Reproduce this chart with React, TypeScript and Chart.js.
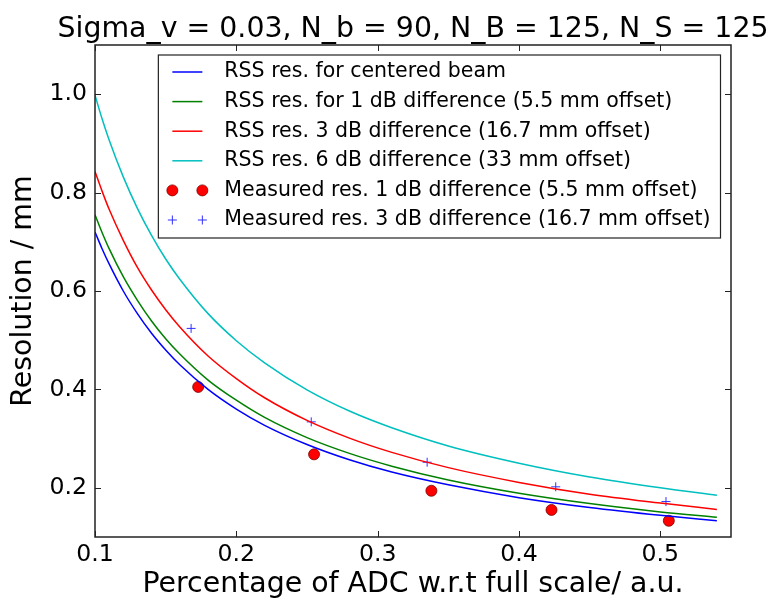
import React, { useEffect, useRef } from 'react';
import { Chart, registerables } from 'chart.js';

Chart.register(...registerables);

const TITLE = 'Sigma_v = 0.03, N_b = 90, N_B = 125, N_S = 125';
const X_LABEL = 'Percentage of ADC w.r.t full scale/ a.u.';
const Y_LABEL = 'Resolution / mm';

const curveX = [0.1, 0.105, 0.11, 0.12, 0.13, 0.14, 0.15, 0.16, 0.18, 0.2, 0.22, 0.25, 0.28, 0.31, 0.35, 0.4, 0.45, 0.5, 0.54];
const centeredBeam = [0.72, 0.686, 0.655, 0.6, 0.554, 0.514, 0.48, 0.45, 0.4, 0.36, 0.327, 0.288, 0.257, 0.232, 0.206, 0.18, 0.16, 0.144, 0.133];
const diff1dB = [0.755, 0.719, 0.686, 0.629, 0.581, 0.539, 0.503, 0.472, 0.419, 0.378, 0.343, 0.302, 0.27, 0.244, 0.216, 0.189, 0.168, 0.151, 0.14];
const diff3dB = [0.843, 0.803, 0.766, 0.703, 0.648, 0.602, 0.562, 0.527, 0.468, 0.422, 0.383, 0.337, 0.301, 0.272, 0.241, 0.211, 0.187, 0.169, 0.156];
const diff6dB = [0.998, 0.95, 0.907, 0.832, 0.768, 0.713, 0.665, 0.624, 0.554, 0.499, 0.454, 0.399, 0.356, 0.322, 0.285, 0.25, 0.222, 0.2, 0.185];

const measuredX1dB = [0.173, 0.255, 0.338, 0.423, 0.506];
const measured1dB = [0.405, 0.268, 0.194, 0.155, 0.133];
const measuredX3dB = [0.168, 0.253, 0.335, 0.426, 0.504];
const measured3dB = [0.524, 0.334, 0.252, 0.202, 0.172];

const seriesLabels = [
  'RSS res. for centered beam',
  'RSS res. for 1 dB difference (5.5 mm offset)',
  'RSS res. 3 dB difference (16.7 mm offset)',
  'RSS res. 6 dB difference (33 mm offset)',
  'Measured res. 1 dB difference (5.5 mm offset)',
  'Measured res. 3 dB difference (16.7 mm offset)',
];

const xTicks = [0.1, 0.2, 0.3, 0.4, 0.5];
const yTicks = [0.2, 0.4, 0.6, 0.8, 1.0];
const X_MIN = 0.1;
const X_MAX = 0.55;
const Y_MIN = 0.1;
const Y_MAX = 1.1;

const FONT = '"DejaVu Sans", "Liberation Sans", sans-serif';
const FRAME = '#222';

const pts = (xs: number[], ys: number[]) => xs.map((x, i) => ({ x, y: ys[i] }));

const titlePlugin = {
  id: 'mplTitle',
  afterDraw(chart: any) {
    const { ctx, chartArea: a } = chart;
    ctx.save();
    ctx.font = `28.4px ${FONT}`;
    ctx.fillStyle = '#000';
    ctx.textAlign = 'center';
    ctx.textBaseline = 'alphabetic';
    ctx.fillText(TITLE, (a.left + a.right) / 2, a.top - 8.5);
    ctx.restore();
  },
};

const framePlugin = {
  id: 'mplFrame',
  afterDatasetsDraw(chart: any) {
    const { ctx, chartArea: a, scales } = chart;
    const tl = 6;
    ctx.save();
    ctx.strokeStyle = FRAME;
    ctx.lineWidth = 1.5;
    ctx.strokeRect(a.left, a.top, a.right - a.left, a.bottom - a.top);
    ctx.lineWidth = 1;
    ctx.beginPath();
    for (const v of xTicks) {
      const px = Math.round(scales.x.getPixelForValue(v)) + 0.5;
      ctx.moveTo(px, a.bottom);
      ctx.lineTo(px, a.bottom - tl);
      ctx.moveTo(px, a.top);
      ctx.lineTo(px, a.top + tl);
    }
    for (const v of yTicks) {
      const py = Math.round(scales.y.getPixelForValue(v)) + 0.5;
      ctx.moveTo(a.left, py);
      ctx.lineTo(a.left + tl, py);
      ctx.moveTo(a.right, py);
      ctx.lineTo(a.right - tl, py);
    }
    ctx.stroke();
    ctx.restore();
  },
};

const legendPlugin = {
  id: 'mplLegend',
  afterDraw(chart: any) {
    const { ctx, chartArea: a } = chart;
    const ds = chart.data.datasets;
    ctx.save();
    ctx.font = `20.5px ${FONT}`;
    const maxW = Math.max(...ds.map((d: any) => ctx.measureText(d.label).width));
    const right = a.right - 10.5;
    const top = a.top + 10;
    const left = right - (66 + maxW + 10);
    const rowH = 29.6;
    const bottom = top + 17 + rowH * (ds.length - 1) + 18;
    ctx.fillStyle = '#fff';
    ctx.fillRect(left, top, right - left, bottom - top);
    ctx.strokeStyle = FRAME;
    ctx.lineWidth = 1.2;
    ctx.strokeRect(left, top, right - left, bottom - top);
    ds.forEach((d: any, i: number) => {
      const y = top + 17 + i * rowH;
      const x0 = left + 14;
      const x1 = left + 44;
      if (d.showLine) {
        ctx.strokeStyle = d.borderColor;
        ctx.lineWidth = d.borderWidth;
        ctx.beginPath();
        ctx.moveTo(x0, y);
        ctx.lineTo(x1, y);
        ctx.stroke();
      } else {
        for (const x of [x0, x1]) {
          if (d.pointStyle === 'circle') {
            ctx.beginPath();
            ctx.arc(x, y, d.pointRadius, 0, Math.PI * 2);
            ctx.fillStyle = d.pointBackgroundColor;
            ctx.fill();
            ctx.strokeStyle = d.pointBorderColor;
            ctx.lineWidth = d.pointBorderWidth;
            ctx.stroke();
          } else {
            ctx.beginPath();
            ctx.strokeStyle = d.pointBorderColor;
            ctx.lineWidth = d.pointBorderWidth;
            ctx.moveTo(x - d.pointRadius, y);
            ctx.lineTo(x + d.pointRadius, y);
            ctx.moveTo(x, y - d.pointRadius);
            ctx.lineTo(x, y + d.pointRadius);
            ctx.stroke();
          }
        }
      }
      ctx.fillStyle = '#000';
      ctx.textAlign = 'left';
      ctx.textBaseline = 'middle';
      ctx.fillText(d.label, left + 66, y);
    });
    ctx.restore();
  },
};

function lineSet(label: string, ys: number[], color: string) {
  return {
    label,
    data: pts(curveX, ys),
    showLine: true,
    borderColor: color,
    backgroundColor: color,
    borderWidth: 1.5,
    pointRadius: 0,
    pointHoverRadius: 0,
    cubicInterpolationMode: 'monotone' as const,
    fill: false,
  };
}

export default function App() {
  const ref = useRef<HTMLCanvasElement | null>(null);

  useEffect(() => {
    document.body.style.margin = '0';
    const canvas = ref.current;
    if (!canvas) return;
    const chart = new Chart(canvas, {
      type: 'scatter',
      data: {
        datasets: [
          lineSet(seriesLabels[0], centeredBeam, '#0000ff'),
          lineSet(seriesLabels[1], diff1dB, '#008000'),
          lineSet(seriesLabels[2], diff3dB, '#ff0000'),
          lineSet(seriesLabels[3], diff6dB, '#00bfbf'),
          {
            label: seriesLabels[4],
            data: pts(measuredX1dB, measured1dB),
            showLine: false,
            pointStyle: 'circle',
            pointRadius: 5.5,
            pointBackgroundColor: '#ff0000',
            pointBorderColor: '#7a0000',
            pointBorderWidth: 0.8,
          } as any,
          {
            label: seriesLabels[5],
            data: pts(measuredX3dB, measured3dB),
            showLine: false,
            pointStyle: 'cross',
            pointRadius: 4.5,
            pointBackgroundColor: '#0000ff',
            pointBorderColor: '#3030ff',
            pointBorderWidth: 1,
          } as any,
        ],
      },
      options: {
        animation: false,
        responsive: false,
        events: [],
        layout: { padding: { left: 0, right: 43, top: 45, bottom: 0 } },
        plugins: {
          legend: { display: false },
          tooltip: { enabled: false },
          title: { display: false },
        },
        scales: {
          x: {
            type: 'linear',
            min: X_MIN,
            max: X_MAX,
            grid: { display: false, drawTicks: false },
            border: { display: false },
            afterFit: (s: any) => { s.height = 69; },
            afterBuildTicks: (s: any) => { s.ticks = xTicks.map((v) => ({ value: v })); },
            ticks: {
              autoSkip: false,
              maxRotation: 0,
              padding: 4,
              color: '#000',
              font: { family: FONT, size: 23.6 },
              callback: (v: any) => Number(v).toFixed(1),
            },
            title: {
              display: true,
              text: X_LABEL,
              color: '#000',
              font: { family: FONT, size: 28.4 },
              padding: { top: 0, bottom: 4 },
            },
          },
          y: {
            type: 'linear',
            min: Y_MIN,
            max: Y_MAX,
            grid: { display: false, drawTicks: false },
            border: { display: false },
            afterFit: (s: any) => { s.width = 95; },
            afterBuildTicks: (s: any) => { s.ticks = yTicks.map((v) => ({ value: v })); },
            ticks: {
              autoSkip: false,
              padding: 8,
              color: '#000',
              font: { family: FONT, size: 23.6 },
              callback: (v: any) => Number(v).toFixed(1),
            },
            title: {
              display: true,
              text: Y_LABEL,
              color: '#000',
              font: { family: FONT, size: 28.4 },
              padding: { top: 7, bottom: 0 },
            },
          },
        },
      } as any,
      plugins: [framePlugin, legendPlugin, titlePlugin],
    });
    return () => chart.destroy();
  }, []);

  return (
    <div style={{ width: 774, height: 606 }}>
      <canvas ref={ref} width={774} height={606} style={{ width: 774, height: 606, display: 'block' }} />
    </div>
  );
}
